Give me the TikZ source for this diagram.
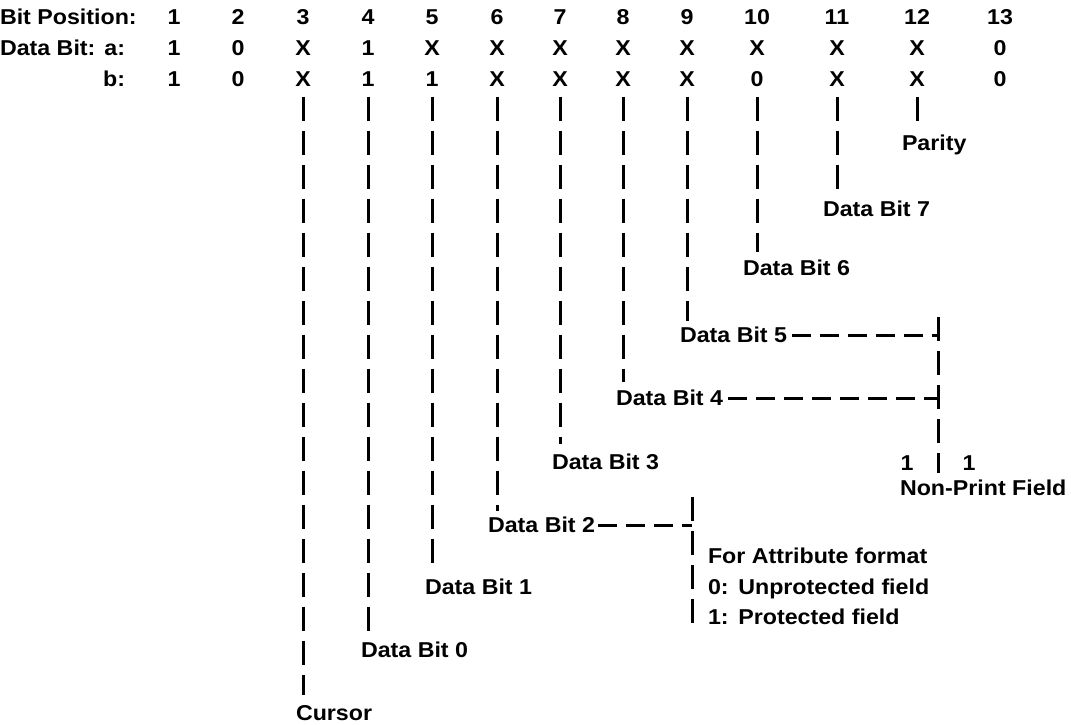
\documentclass[tikz,border=0pt]{standalone}
\usepackage{fontspec}
\setmainfont{Liberation Sans}[FakeStretch=1.08]
\usetikzlibrary{calc}
\begin{document}
\begin{tikzpicture}[x=1pt,y=-1pt,
  every node/.style={inner sep=0pt,outer sep=0pt,font=\fontsize{21.5}{25}\selectfont\bfseries,text height=15.4pt,text depth=0pt},
  lbl/.style={anchor=west},
  bit/.style={anchor=center},
  dl/.style={line width=3pt,dash pattern=on 24pt off 10pt},
  hl/.style={line width=3pt,dash pattern=on 19pt off 9pt}]
\useasboundingbox (0,0) rectangle (1071,725);
% header
\node[lbl] (bp) at (0,17) {Bit Position:};
\node[lbl] (dbh) at (0,48) {Data Bit:};
\node[anchor=east] (ra) at (125,48) {a:};
\node[anchor=east] (rb) at (125,79) {b:};
\foreach \i/\x/\a/\b in {1/174/1/1,2/238/0/0,3/303/X/X,4/368/1/1,5/432/X/1,6/497/X/X,7/560/X/X,8/623/X/X,9/687/X/X,10/757/X/0,11/837/X/X,12/917/X/X,13/1000/0/0}{
  \node[bit] (h\i) at (\x,17) {\i};
  \node[bit] (a\i) at (\x,48) {\a};
  \node[bit] (b\i) at (\x,79) {\b};
}
% labels
\node[lbl] (par) at (902,143) {Parity};
\node[lbl] (d7) at (823,209) {Data Bit 7};
\node[lbl] (d6) at (743,268) {Data Bit 6};
\node[lbl] (d5) at (680,335) {Data Bit 5};
\node[lbl] (d4) at (616,398) {Data Bit 4};
\node[lbl] (d3) at (552,462) {Data Bit 3};
\node[lbl] (d2) at (488,525) {Data Bit 2};
\node[lbl] (d1) at (425,587) {Data Bit 1};
\node[lbl] (d0) at (361,650) {Data Bit 0};
\node[lbl] (cur) at (296,713) {Cursor};
\node[bit] (npl) at (907,463) {1};
\node[bit] (npr) at (969,463) {1};
\node[lbl] (npf) at (900,488) {Non-Print Field};
\node[lbl] (fa) at (708,556) {For Attribute format};
\node[lbl] (fa0) at (708,587) {0:\hspace{0.45em}Unprotected field};
\node[lbl] (fa1) at (708,617) {1:\hspace{0.45em}Protected field};
% vertical leader lines
\foreach \c/\l/\o in {3/cur/10,4/d0/10,5/d1/10,6/d2/6,7/d3/10,8/d4/8,9/d5/6,10/d6/8,11/d7/4,12/par/8}{
  \draw[dl] ($(b\c.south)+(0,10)$) -- ($(b\c.south |- \l.north)+(0,-\o)$);
}
% non-print field bracket
\coordinate (npt) at (938,317);
\coordinate (npb) at (938,473);
\draw[dl] (npt) -- (npb);
\draw[hl] ($(d5.east)+(5,0)$) -- (d5.east -| npt);
\draw[hl] ($(d4.east)+(5,0)$) -- (d4.east -| npt);
% attribute bracket
\coordinate (fat) at (692,497);
\coordinate (fab) at (692,630);
\draw[dl] (fat) -- (fab);
\draw[hl] ($(d2.east)+(3,0)$) -- (d2.east -| fat);
\end{tikzpicture}
\end{document}
